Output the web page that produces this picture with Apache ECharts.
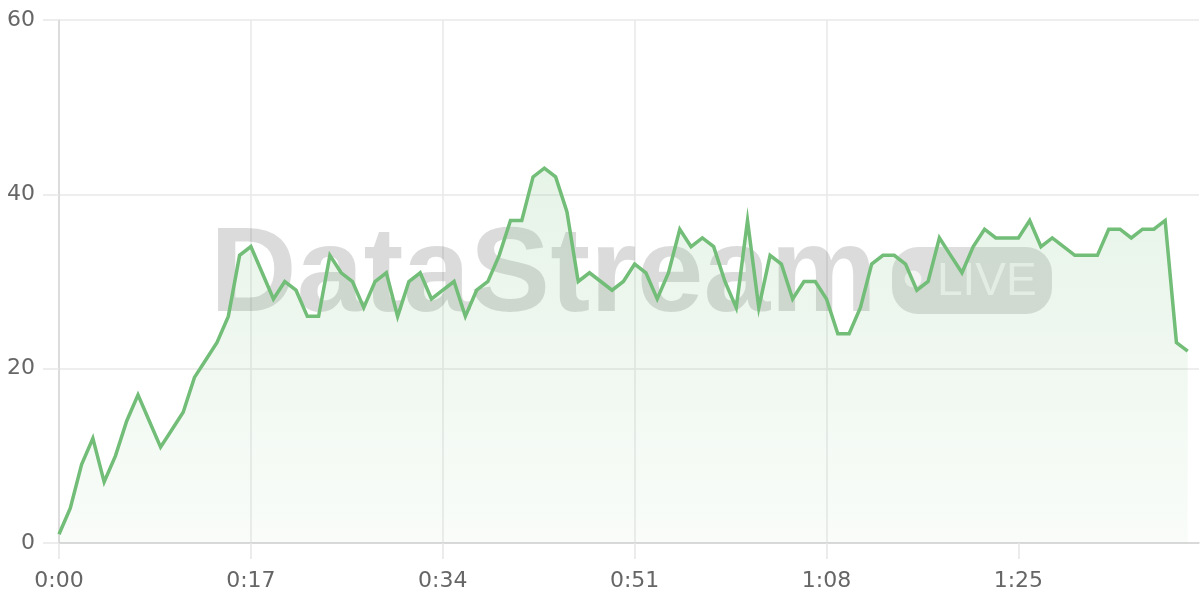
<!DOCTYPE html>
<html>
<head>
<meta charset="utf-8">
<script src="https://cdn.jsdelivr.net/npm/echarts@6/dist/echarts.min.js"></script>
<style>
html,body{margin:0;padding:0;background:#fff;}
#chart{width:1200px;height:600px;}
</style>
</head>
<body>
<div id="chart"></div>
<script>
// Values sampled once per second, starting at 0:00
const values = [
  1, 4, 9, 12, 7, 10, 14, 17, 14, 11,
  13, 15, 19, 21, 23, 26, 33, 34, 31, 28,
  30, 29, 26, 26, 33, 31, 30, 27, 30, 31,
  26, 30, 31, 28, 29, 30, 26, 29, 30, 33,
  37, 37, 42, 43, 42, 38, 30, 31, 30, 29,
  30, 32, 31, 28, 31, 36, 34, 35, 34, 30,
  27, 37, 27, 33, 32, 28, 30, 30, 28, 24,
  24, 27, 32, 33, 33, 32, 29, 30, 35, 33,
  31, 34, 36, 35, 35, 35, 37, 34, 35, 34,
  33, 33, 33, 36, 36, 35, 36, 36, 37, 23,
  22
];
const tickSeconds = [0, 17, 34, 51, 68, 85];
const tickLabels = ['0:00', '0:17', '0:34', '0:51', '1:08', '1:25'];
const yTicks = [0, 20, 40, 60];

const points = values.map((v, i) => [i, v]);
const labelFont = 'DejaVu Sans';

const chart = echarts.init(document.getElementById('chart'), null, {renderer: 'canvas'});
chart.setOption({
  animation: false,
  backgroundColor: '#ffffff',
  grid: {left: 59, right: 1, top: 20, bottom: 57, containLabel: false},
  xAxis: {
    type: 'value',
    min: 0,
    max: 101,
    interval: 17,
    axisLine: {show: true, lineStyle: {color: '#d2d2d2', width: 1.5}},
    axisTick: {show: true, length: 16, lineStyle: {color: '#e6e6e6', width: 1.5}, customValues: tickSeconds},
    axisLabel: {
      customValues: tickSeconds,
      margin: 27,
      color: '#666666',
      fontFamily: labelFont,
      fontSize: 22,
      formatter: function (v) { const k = tickSeconds.indexOf(v); return k >= 0 ? tickLabels[k] : ''; }
    },
    splitLine: {show: true, showMaxLine: false, lineStyle: {color: '#e8e8e8', width: 1.5}}
  },
  yAxis: {
    type: 'value',
    min: 0,
    max: 60,
    interval: 20,
    axisLine: {show: true, lineStyle: {color: '#d6d6d6', width: 1.5}},
    axisTick: {show: true, length: 16, lineStyle: {color: '#e8e8e8', width: 1.5}},
    axisLabel: {
      margin: 24,
      color: '#666666',
      fontFamily: labelFont,
      fontSize: 22,
      formatter: function (v) { return yTicks.indexOf(v) >= 0 ? String(v) : ''; }
    },
    splitLine: {show: true, lineStyle: {color: '#e8e8e8', width: 1.5}}
  },
  graphic: [
    {
      type: 'text', z: 1,
      x: 210, y: 278,
      style: {
        text: 'DataStream',
        fontFamily: 'Liberation Sans', fontWeight: 'bold', fontSize: 120,
        fill: 'rgba(0,0,0,0.14)', verticalAlign: 'middle', align: 'left'
      }
    },
    {
      type: 'rect', z: 1, x: 892, y: 247,
      shape: {width: 160, height: 67, r: 26},
      style: {fill: 'rgba(0,0,0,0.13)'}
    },
    {
      type: 'circle', z: 1, x: 913, y: 279,
      shape: {r: 8.5},
      style: {fill: 'rgba(255,255,255,0.65)'}
    },
    {
      type: 'text', z: 1, x: 937, y: 282,
      style: {
        text: 'LIVE',
        fontFamily: 'Liberation Sans', fontSize: 46,
        fill: 'rgba(255,255,255,0.68)', verticalAlign: 'middle', align: 'left'
      }
    }
  ],
  series: [{
    type: 'line',
    data: points,
    showSymbol: false,
    symbol: 'none',
    z: 3,
    lineStyle: {color: '#72bd77', width: 3.5, join: 'miter', miterLimit: 10},
    areaStyle: {
      color: {
        type: 'linear', x: 0, y: 0, x2: 0, y2: 1,
        colorStops: [
          {offset: 0, color: 'rgba(114,189,119,0.25)'},
          {offset: 1, color: 'rgba(114,189,119,0.06)'}
        ]
      }
    }
  }]
});
</script>
</body>
</html>
